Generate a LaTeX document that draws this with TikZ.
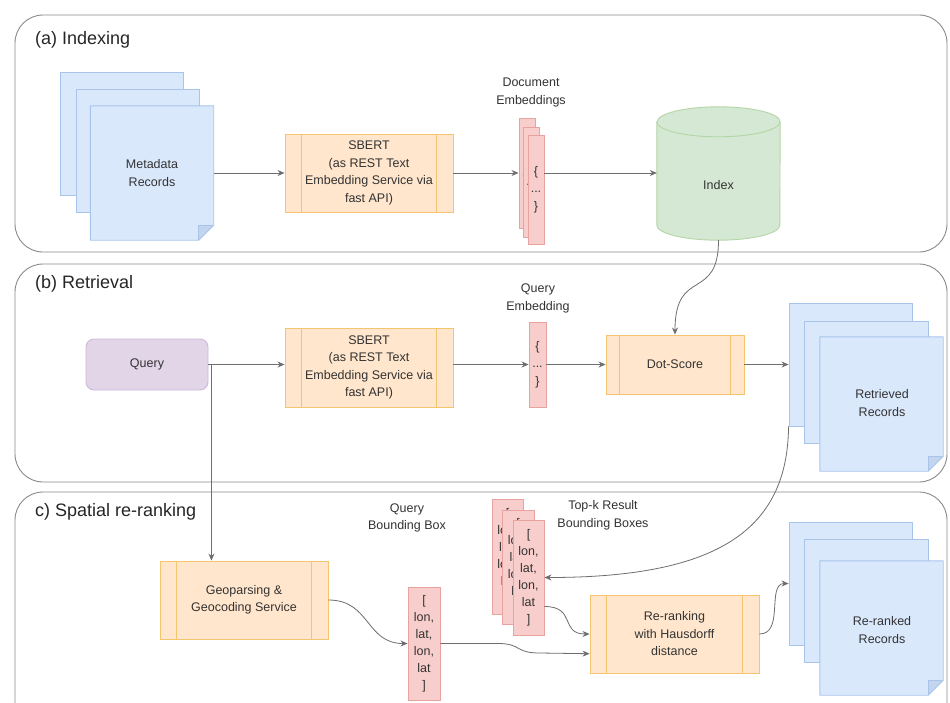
\documentclass[tikz,border=0pt]{standalone}
\usepackage{fontspec}
\setmainfont{Liberation Sans}
\usetikzlibrary{arrows.meta,calc}
\definecolor{txt}{HTML}{333333}
\definecolor{panelD}{HTML}{8A8A8A}
\definecolor{connD}{HTML}{6E6E6E}
\definecolor{blueF}{HTML}{DAE8FC}
\definecolor{blueD}{HTML}{A9C4EB}
\definecolor{blueK}{HTML}{C3D4EE}
\definecolor{redF}{HTML}{F8CECC}
\definecolor{redD}{HTML}{E8A3A1}
\definecolor{orF}{HTML}{FFE6CC}
\definecolor{orD}{HTML}{F4C46E}
\definecolor{grF}{HTML}{D5E8D4}
\definecolor{grD}{HTML}{B4D5A6}
\definecolor{puF}{HTML}{E1D5E7}
\definecolor{puD}{HTML}{CDB9DA}
\tikzset{
  body/.style={font=\fontsize{12.5}{17.5}\selectfont, text=txt, align=center},
  panel/.style={draw=panelD, line width=0.9pt, rounded corners=28pt},
  ptitle/.style={font=\fontsize{18}{20}\selectfont, text=black!85, anchor=west, inner sep=0pt},
  backpage/.style={draw=blueD, fill=blueF, line width=0.9pt, minimum width=123pt, minimum height=123pt, inner sep=0pt},
  frontpage/.style={body, minimum width=123pt, minimum height=134pt, inner sep=0pt},
  procbox/.style={body, draw=orD, fill=orF, line width=0.9pt, inner sep=0pt},
  embbox/.style={body, draw=redD, fill=redF, line width=0.9pt, inner sep=0pt, minimum width=16pt},
  lbl/.style={body},
  conn/.style={draw=connD, line width=0.8pt, -{Stealth[length=7pt,width=6pt]}},
  plainline/.style={draw=connD, line width=0.8pt},
}
\newcommand\frontdoc[1]{%
  \fill[blueF] (#1.north west) -- (#1.north east) -- ([yshift=15pt]#1.south east) -- ([xshift=-15pt]#1.south east) -- (#1.south west) -- cycle;
  \fill[blueK] ([xshift=-15pt,yshift=15pt]#1.south east) -- ([yshift=15pt]#1.south east) -- ([xshift=-15pt]#1.south east) -- cycle;
  \draw[blueD, line width=0.9pt, line join=round] (#1.north west) -- (#1.north east) -- ([yshift=15pt]#1.south east) -- ([xshift=-15pt]#1.south east) -- (#1.south west) -- cycle;
  \draw[blueD, line width=0.9pt] ([yshift=15pt]#1.south east) -- ([xshift=-15pt,yshift=15pt]#1.south east) -- ([xshift=-15pt]#1.south east);
}
\newcommand\proclines[1]{%
  \draw[orD, line width=0.9pt] ($(#1.north west)!0.1!(#1.north east)$) -- ($(#1.south west)!0.1!(#1.south east)$);
  \draw[orD, line width=0.9pt] ($(#1.north west)!0.9!(#1.north east)$) -- ($(#1.south west)!0.9!(#1.south east)$);
}
\begin{document}
\begin{tikzpicture}[x=1pt,y=-1pt]
\useasboundingbox (0,0) rectangle (950,702);
\clip (0,0) rectangle (950,702);
\fill[white] (0,0) rectangle (950,702);

% panels
\draw[panel] (15,15) rectangle (947,252);
\draw[panel] (15,264) rectangle (947,482);
\draw[panel] (15,492) rectangle (947,760);
\node[ptitle] (ta) at (35,39.5) {(a) Indexing};
\node[ptitle] (tb) at (35,284) {(b) Retrieval};
\node[ptitle] (tc) at (35,512) {c) Spatial re-ranking};

% ---------- (a) ----------
\node[backpage] (md1) at (121.5,133.5) {};
\node[backpage] (md2) at (137.5,150.5) {};
\node[frontpage] (md3) at (152,173) {};
\frontdoc{md3}
\node[body] at (md3) {Metadata\\Records};

\node[procbox, minimum width=168pt, minimum height=78pt] (sba) at (369,173) {SBERT\\(as REST Text\\Embedding Service via\\fast API)};
\proclines{sba}

\node[embbox, minimum height=110pt] (de1) at (527,173) {\{\\...\\\}};
\node[embbox, minimum height=110pt] (de2) at (531.5,182) {\{\\...\\\}};
\node[embbox, minimum height=109pt] (de3) at (536,189.5) {\{\\...\\\}};
\node[lbl] (delbl) at (531,92.5) {Document\\Embeddings};

\node[minimum width=123pt, minimum height=133pt, inner sep=0pt] (index) at (718.5,173.5) {};
\filldraw[fill=grF, draw=grD, line width=0.9pt]
  (index.north west) ++(0,15) -- ([yshift=15pt]index.south west)
  arc[start angle=180, end angle=360, x radius=61.5pt, y radius=15pt]
  -- ([yshift=-15pt]index.north east)
  arc[start angle=0, end angle=180, x radius=61.5pt, y radius=15pt] -- cycle;
\draw[grD, line width=0.9pt] ([yshift=-15pt]index.north west)
  arc[start angle=180, end angle=360, x radius=61.5pt, y radius=15pt];
\node[body] at (718.5,185) {Index};

\draw[conn] (md3.east |- sba.west) -- (sba.west);
\draw[conn] (sba.east) -- (sba.east -| de1.west);
\draw[conn] (sba.east -| de3.east) -- (sba.east -| index.west);

% ---------- (b) ----------
\node[body, draw=puD, fill=puF, line width=0.9pt, rounded corners=8pt, minimum width=122pt, minimum height=51pt] (query) at (147,364.5) {Query};
\node[procbox, minimum width=168pt, minimum height=79pt] (sbb) at (369,367.5) {SBERT\\(as REST Text\\Embedding Service via\\fast API)};
\proclines{sbb}
\node[embbox, minimum width=17pt, minimum height=85pt] (qe) at (537.5,364.5) {\{\\...\\\}};
\node[lbl] (qelbl) at (538,298.5) {Query\\Embedding};
\node[procbox, minimum width=138pt, minimum height=59pt] (dot) at (675,364.5) {Dot-Score};
\proclines{dot}

\node[backpage] (rr1) at (850.5,364.5) {};
\node[backpage, minimum width=124pt, minimum height=122pt] (rr2) at (866,382) {};
\node[frontpage] (rr3) at (881.5,404) {};
\frontdoc{rr3}
\node[body] at (882,403) {Retrieved\\Records};

\coordinate (qbranch) at ([xshift=3pt]query.east);
\draw[conn] (query.east) -- (query.east -| sbb.west);
\draw[conn] (sbb.east |- query.east) -- (qe.west);
\draw[conn] (qe.east) -- (dot.west);
\draw[conn] (dot.east) -- (rr1.west);
\draw[conn] (index.south) .. controls +(0,62) and +(0,-68) .. (dot.north);

% ---------- (c) ----------
\node[procbox, minimum width=168pt, minimum height=78pt] (geo) at (244,600) {Geoparsing \&\\Geocoding Service};
\proclines{geo}
\draw[conn] (qbranch) -- (qbranch |- geo.north);

\node[embbox, minimum width=32pt, minimum height=113pt, font=\fontsize{12.5}{17}\selectfont] (qbb) at (424,643.5) {[\\lon,\\lat,\\lon,\\lat\\]};
\node[lbl] (qbblbl) at (407,518) {Query\\Bounding Box};

\node[embbox, minimum width=31pt, minimum height=115pt, font=\fontsize{12.5}{17}\selectfont] (tk1) at (507.5,556.5) {[\\lon,\\lat,\\lon,\\lat\\]};
\node[embbox, minimum width=32pt, minimum height=114pt, font=\fontsize{12.5}{17}\selectfont] (tk2) at (518,567) {[\\lon,\\lat,\\lon,\\lat\\]};
\node[embbox, minimum width=31pt, minimum height=115pt, font=\fontsize{12.5}{17}\selectfont] (tk3) at (528.5,577.5) {[\\lon,\\lat,\\lon,\\lat\\]};
\node[lbl] (tklbl) at (603,515.5) {Top-k Result\\Bounding Boxes};

\node[procbox, minimum width=169pt, minimum height=78pt] (rk) at (674.5,634) {Re-ranking\\with Hausdorff\\distance};
\proclines{rk}

\node[backpage] (k1) at (850.5,583.5) {};
\node[backpage, minimum width=124pt] (k2) at (866,600.5) {};
\node[frontpage] (k3) at (881.5,628) {};
\frontdoc{k3}
\node[body] at (882,630) {Re-ranked\\Records};

\coordinate (rkin) at ($(rk.north west)!0.75!(rk.south west)$);
\coordinate (tkout) at ($(tk3.north east)!0.75!(tk3.south east)$);
\draw[conn] (geo.east) .. controls +(42,0) and +(-42,0) .. (qbb.west);
\draw[conn] (qbb.east) -- (498,643.5) .. controls (522,643.5) and (514,653) .. (540,653) -- (rkin);
\draw[conn] (tkout) .. controls +(32,0) and +(-30,0) .. (rk.west);
\draw[conn] (rk.east) .. controls +(25,0) and +(-22,0) .. (k1.west);
\draw[conn] (rr1.south west) .. controls +(-1,103) and +(174,0) .. (tk3.east);
\end{tikzpicture}
\end{document}
